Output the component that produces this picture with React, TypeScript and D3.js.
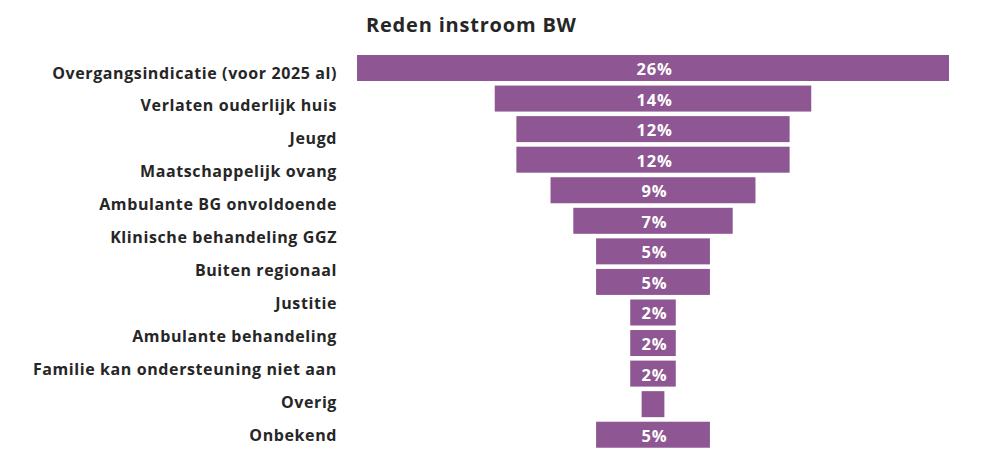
import React from "react";
import * as d3 from "d3";

// Category labels (12, shown on the left, evenly spaced)
const categories = [
  "Overgangsindicatie (voor 2025 al)",
  "Verlaten ouderlijk huis",
  "Jeugd",
  "Maatschappelijk ovang",
  "Ambulante BG onvoldoende",
  "Klinische behandeling GGZ",
  "Buiten regionaal",
  "Justitie",
  "Ambulante behandeling",
  "Familie kan ondersteuning niet aan",
  "Overig",
  "Onbekend",
];
// Bar values in percent (13 bars, as drawn in the reference)
const barValues = [26, 13.9, 12, 12, 9, 7, 5, 5, 2, 2, 2, 1, 5];
const title = "Reden instroom BW";

const W = 986;
const H = 457;
const FONT = "'Open Sans', 'DejaVu Sans', sans-serif";
const BAR = "#8E5692";
const TXT = "#262626";

export default function App() {
  const cx = 653;
  const x = d3.scaleLinear().domain([0, 26]).range([0, 592]);
  const step = 30.56;
  const idx = barValues.map((_, i) => i);
  const y = d3
    .scaleBand<number>()
    .domain(idx)
    .range([55 - 0.0745 * step, 55 - 0.0745 * step + step * barValues.length])
    .paddingInner(0.149)
    .paddingOuter(0.0745);
  const bw = y.bandwidth();
  const yl = d3
    .scalePoint<string>()
    .domain(categories)
    .range([78.5, 441]);
  return (
    <svg
      width={W}
      height={H}
      style={{ position: "absolute", left: 0, top: 0, background: "#fff" }}
    >
      <text
        x={366}
        y={32}
        fontFamily={FONT}
        fontWeight={700}
        fontSize={20}
        letterSpacing={0.8}
        fill={TXT}
      >
        {title}
      </text>
      {categories.map((c) => (
        <text
          key={c}
          x={337}
          y={yl(c)}
          textAnchor="end"
          fontFamily={FONT}
          fontWeight={700}
          fontSize={16}
          letterSpacing={0.6}
          fill={TXT}
        >
          {c}
        </text>
      ))}
      {barValues.map((v, i) => {
        const w = x(v);
        const y0 = y(i) as number;
        const yc = y0 + bw / 2;
        return (
          <g key={i}>
            <rect x={cx - w / 2} y={y0} width={w} height={bw} fill={BAR} />
            {w > 30 && (
              <text
                x={cx + 1.5}
                y={yc + 7}
                textAnchor="middle"
                fontFamily={FONT}
                fontWeight={700}
                fontSize={16.5}
                letterSpacing={0.8}
                fill="#ffffff"
              >
                {d3.format(".0f")(v) + "%"}
              </text>
            )}
          </g>
        );
      })}
    </svg>
  );
}
